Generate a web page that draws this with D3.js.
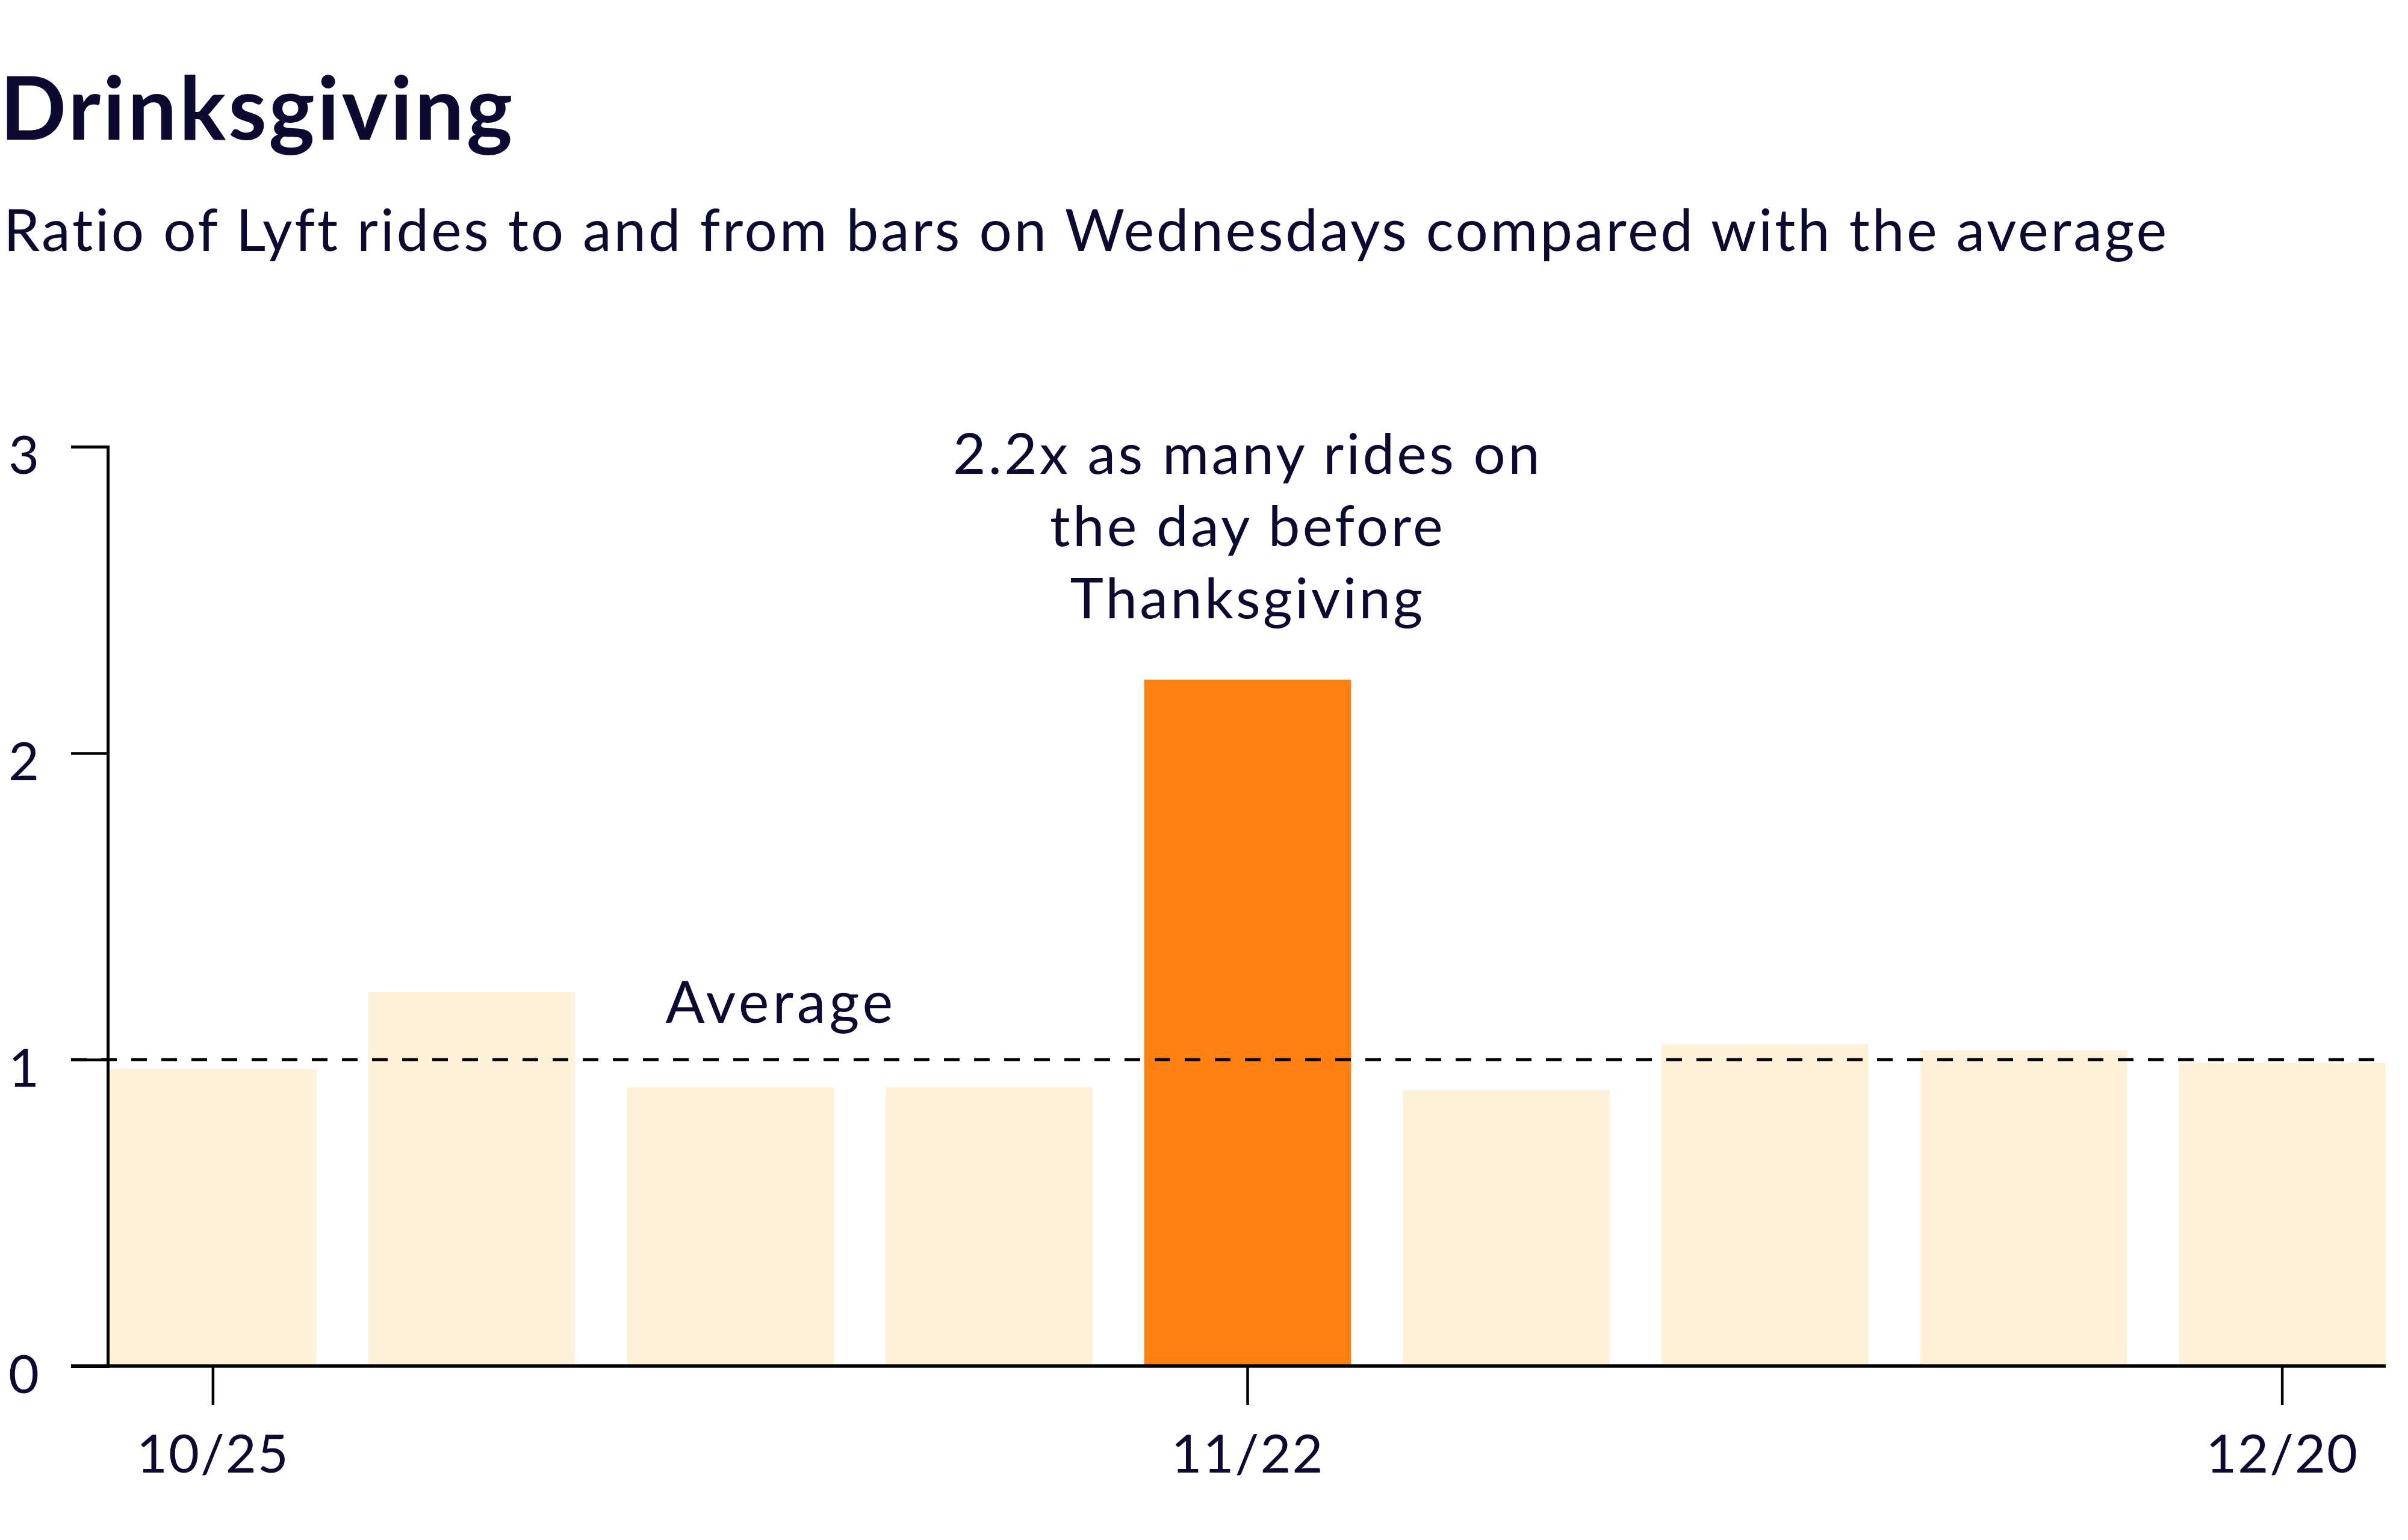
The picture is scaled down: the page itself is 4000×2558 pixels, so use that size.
<!DOCTYPE html>
<html>
<head>
<meta charset="utf-8">
<script src="https://cdn.jsdelivr.net/npm/d3@7"></script>
<style>
  body { margin: 0; background: #fff; }
  text { font-family: Lato, "Noto Sans", sans-serif; fill: #0c0a30; }
</style>
</head>
<body>
<div class="chart"></div>
<script>
var width = 4000;
var height = 2558;

// wednesdays, ratio vs average
var dates = ['10/25', '11/1', '11/8', '11/15', '11/22', '11/29', '12/6', '12/13', '12/20'];
var ratios = [0.97, 1.22, 0.91, 0.91, 2.24, 0.90, 1.05, 1.03, 0.99];
var highlight = ['11/22'];
var x_tick_labels = ['10/25', '11/22', '12/20'];
var y_ticks = [0, 1, 2, 3];
var average = 1;

var title = 'Drinksgiving';
var subtitle = 'Ratio of Lyft rides to and from bars on Wednesdays compared with the average';
var note_lines = ['2.2x as many rides on', 'the day before', 'Thanksgiving'];

var axis_x = 179;
var tick_len = 61;

var chart_svg = d3.select(".chart")
	.append("svg")
	.attr("width", width)
	.attr("height", height);

var x = d3.scaleBand()
	.domain(dates)
	.range([182, 3963])
	.paddingInner(0.2)
	.paddingOuter(0);

var y = d3.scaleLinear()
	.domain([0, 3])
	.range([2269, 742]);

// titles
chart_svg.append("text")
	.attr("x", 0)
	.attr("y", 232)
	.attr("font-size", 145)
	.attr("font-weight", 700)
	.attr("letter-spacing", 4)
	.text(title);

chart_svg.append("text")
	.attr("x", 6)
	.attr("y", 417)
	.attr("font-size", 96)
	.attr("letter-spacing", 3.7)
	.text(subtitle);

// bars
chart_svg.append("g").attr("class", "bars")
	.selectAll("rect")
	.data(dates)
	.enter()
	.append("rect")
	.attr("x", function(d) { return x(d); })
	.attr("y", function(d, i) { return y(ratios[i]); })
	.attr("width", x.bandwidth())
	.attr("height", function(d, i) { return y(0) - y(ratios[i]); })
	.style("fill", function(d) { return highlight.indexOf(d) >= 0 ? "#ff7f11" : "#fff0d8"; });

// y axis
var y_axis = chart_svg.append("g")
	.attr("transform", "translate(" + axis_x + ",0)")
	.call(d3.axisLeft(y).tickValues(y_ticks).tickSize(tick_len).tickPadding(53).tickFormat(d3.format("d")));
y_axis.select(".domain").attr("stroke", "#000").attr("stroke-width", 5);
y_axis.selectAll(".tick line").attr("stroke", "#000").attr("stroke-width", 4.5);
y_axis.selectAll(".tick text")
	.attr("font-size", 88)
	.attr("font-family", "Lato, sans-serif")
	.attr("fill", "#0c0a30")
	.attr("dy", "0.5em");

// x axis line
chart_svg.append("line")
	.attr("x1", axis_x - tick_len)
	.attr("x2", x.range()[1])
	.attr("y1", y(0))
	.attr("y2", y(0))
	.attr("stroke", "#000")
	.attr("stroke-width", 5.5);

var x_axis = chart_svg.append("g")
	.attr("transform", "translate(0," + y(0) + ")")
	.call(d3.axisBottom(x).tickValues(x_tick_labels).tickSize(65).tickPadding(50));
x_axis.select(".domain").remove();
x_axis.selectAll(".tick line").attr("stroke", "#000").attr("stroke-width", 4.5);
x_axis.selectAll(".tick text")
	.attr("font-size", 88)
	.attr("font-family", "Lato, sans-serif")
	.attr("letter-spacing", 2)
	.attr("fill", "#0c0a30");

// average line
chart_svg.append("line")
	.attr("x1", axis_x - tick_len)
	.attr("x2", x.range()[1])
	.attr("y1", y(average))
	.attr("y2", y(average))
	.attr("stroke", "#000")
	.attr("stroke-width", 5)
	.attr("stroke-dasharray", "26,24");

chart_svg.append("text")
	.attr("x", x(dates[2]) + x.bandwidth() * 0.745)
	.attr("y", y(average) - 61)
	.attr("text-anchor", "middle")
	.attr("font-size", 96)
	.attr("letter-spacing", 6)
	.text("Average");

// annotation above the highlighted bar
chart_svg.append("g").selectAll("text")
	.data(note_lines)
	.enter()
	.append("text")
	.attr("x", x(highlight[0]) + x.bandwidth() / 2)
	.attr("y", function(d, i) { return 787 + i * 120; })
	.attr("text-anchor", "middle")
	.attr("font-size", 94)
	.attr("letter-spacing", 4.3)
	.text(function(d) { return d; });
</script>
</body>
</html>
